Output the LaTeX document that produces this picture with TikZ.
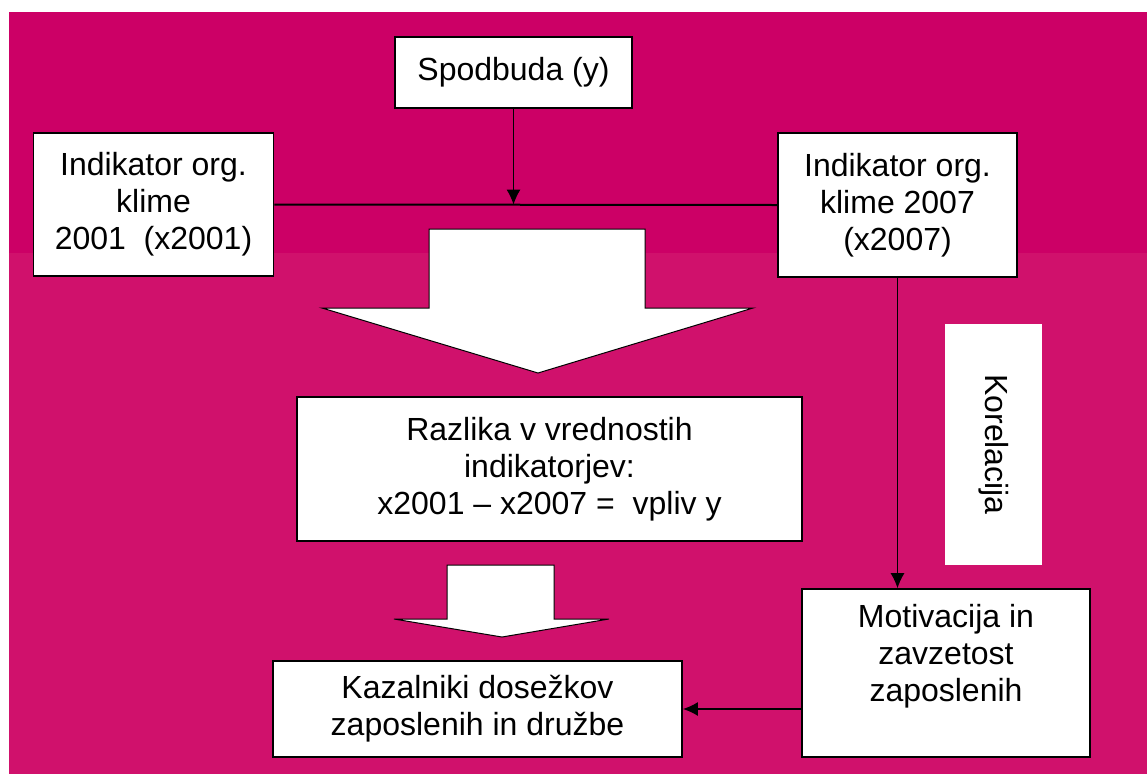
\documentclass[tikz,border=0pt]{standalone}
\usepackage{fontspec}
\setmainfont{Liberation Sans}
\usetikzlibrary{arrows.meta}
\definecolor{magtop}{RGB}{204,0,102}
\definecolor{magbot}{RGB}{208,17,108}

\begin{document}
\begin{tikzpicture}[x=1pt,y=1pt,yscale=-1,xscale=1,
  box/.style={draw=black,line width=1.8,fill=white,inner sep=0pt,align=center,font=\fontsize{32}{37}\selectfont},
  txt/.style={inner sep=0pt,align=center,font=\fontsize{32}{37}\selectfont},
  link/.style={line width=1,-{Latex[length=15pt,width=14pt]}},
  fat/.style={draw=black,line width=1,fill=white,line join=miter}]
  \useasboundingbox (0,0) rectangle (1147,774);
  \fill[magtop] (9,12) rectangle (1147,253);
  \fill[magbot] (9,253) rectangle (1147,774);

  \node[box,minimum width=237,minimum height=71] (spod) at (513.5,72.5) {Spodbuda (y)};
  \node[box,minimum width=240,minimum height=143] (left) at (153.5,204.5) {Indikator org.\\klime\\2001\ \ (x2001)};
  \node[box,minimum width=239,minimum height=144] (right) at (897.5,205) {Indikator org.\\klime 2007\\(x2007)};
  \node[box,minimum width=505,minimum height=144] (razl) at (549.5,469) {Razlika v vrednostih\\indikatorjev:\\x2001 -- x2007 =\ \ vpliv y};
  \node[box,minimum width=409,minimum height=96] (kaz) at (477.5,709) {Kazalniki dosežkov\\zaposlenih in družbe};
  \node[box,minimum width=288,minimum height=168] (moti) at (946,673) {};
  \node[txt] (motilbl) at (946,656) {Motivacija in\\zavzetost\\zaposlenih};
  \node[txt,fill=white,minimum width=241,minimum height=97,rotate=-90] (kor) at (993.5,444.5) {Korelacija};

  \draw[fat] (429,229) -- (645,229) -- (645,308) -- (753,308) -- (538,373) -- (322,308) -- (429,308) -- cycle;
  \draw[fat] (447,565) -- (554,565) -- (554,619) -- (609,619) -- (502,637) -- (394,619) -- (447,619) -- cycle;

  \draw[link] (spod.south) -- (spod.south |- left.east);
  \draw[line width=2] (left.east) -- (right.west);
  \draw[link] (right.south) -- (right.south |- moti.north);
  \draw[link,line width=1.5] (moti.west |- kaz.east) -- (kaz.east);
\end{tikzpicture}
\end{document}
